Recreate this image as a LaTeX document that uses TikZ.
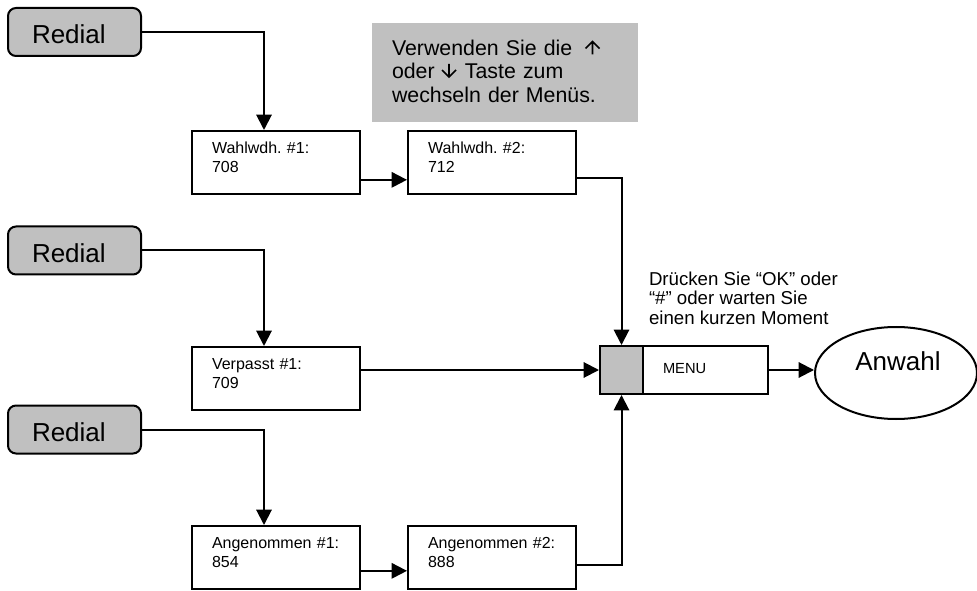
\documentclass[tikz,border=0pt]{standalone}
\usepackage{fontspec}
\setmainfont{Liberation Sans}
\frenchspacing
\usetikzlibrary{arrows.meta,shapes.geometric}
\definecolor{keygray}{HTML}{C0C0C0}
\begin{document}
\begin{tikzpicture}[x=0.75pt,y=-0.75pt,
  line width=1.5pt,
  arr/.style={-{Triangle[length=11.5pt,width=11.5pt]}},
  keyglyph/.style={line width=1.15pt, miter limit=10},
  redial/.style={draw, rounded corners=6pt, fill=keygray,
    minimum width=99.75pt, minimum height=36pt,
    inner xsep=18pt, inner ysep=0pt, text width=63.75pt, align=left,
    text height=18pt, text depth=0pt,
    font=\fontsize{19.5}{22}\selectfont},
  entry/.style={draw, fill=white,
    minimum width=126pt, minimum height=47.25pt,
    inner xsep=15pt, inner ysep=0pt, text width=96pt, align=left,
    text height=9pt, text depth=22pt,
    font=\fontsize{12}{14.25}\selectfont},
  hint/.style={fill=keygray,
    minimum width=199.5pt, minimum height=74.25pt,
    inner xsep=15pt, inner ysep=0pt, text width=169.5pt, align=left,
    text height=12pt, text depth=37.5pt,
    font=\fontsize{16}{17.6}\selectfont},
  menukey/.style={draw, fill=keygray, minimum width=32.25pt, minimum height=36pt, inner sep=0pt},
  menulabel/.style={draw, fill=white, minimum width=93.75pt, minimum height=36pt,
    inner xsep=15pt, inner ysep=0pt, text width=63.75pt, align=left,
    text height=8pt, text depth=3.5pt,
    font=\fontsize{11}{13}\selectfont},
  dial/.style={draw, ellipse, minimum width=121.5pt, minimum height=69pt, inner sep=0pt}
]
\useasboundingbox (0,0) rectangle (977,591);

% redial keys
\node[redial] (r1) at (74.5,32) {Redial};
\node[redial] (r2) at (74.5,250.5) {Redial};
\node[redial] (r3) at (74.5,429.5) {Redial};

% call list entries
\node[entry] (w1) at (276,162.5) {Wahlwdh. \#1:\\708};
\node[entry] (w2) at (492,162.5) {Wahlwdh. \#2:\\712};
\node[entry] (v1) at (276,378.5) {Verpasst \#1:\\709};
\node[entry] (a1) at (276,557.5) {Angenommen \#1:\\854};
\node[entry] (a2) at (492,557.5) {Angenommen \#2:\\888};

% hint box, with room left for the up/down key glyphs
\node[hint] (hint) at (505,72.5)
  {Verwenden Sie die\\oder\ \hspace{12pt}\ Taste zum\\wechseln der Menüs.};
% up and down key glyphs
\draw[keyglyph] (592.5,54.5) -- (592.5,41.5) (585.5,48.5) -- (592.5,41.5) -- (599.5,48.5);
\draw[keyglyph] (449,64) -- (449,77) (442,70) -- (449,77) -- (456,70);

% menu key and dial target
\node[menukey] (key) at (621.5,370) {};
\node[menulabel] (menu) at (705.5,370) {MENU};
\node[dial] (dial) at (896,373) {};
\node[font=\fontsize{19.5}{22}\selectfont] (dialtext) at (898,361) {Anwahl};

\node[anchor=north west, inner sep=0pt, align=left,
      font=\fontsize{14}{14.6}\selectfont] (okhint) at (648,271)
      {Drücken Sie “OK” oder\\“\#” oder warten Sie\\einen kurzen Moment};

% connectors
\draw[arr] (r1.east) -| ([xshift=-9pt]w1.north);
\draw[arr] (r2.east) -| ([xshift=-9pt]v1.north);
\draw[arr] (r3.east) -| ([xshift=-9pt]a1.north);
\draw[arr] ([yshift=-13pt]w1.east) -- ([yshift=-13pt]w2.west);
\draw[arr] ([yshift=-10pt]a1.east) -- ([yshift=-10pt]a2.west);
\draw[arr] ([yshift=-11.6pt]w2.east) -| (key.north);
\draw[arr] ([yshift=-5.6pt]a2.east) -| (key.south);
\draw[arr] (v1.east |- key.west) -- (key.west);
\draw[arr] (menu.east) -- (menu.east -| dial.west);
\end{tikzpicture}
\end{document}
